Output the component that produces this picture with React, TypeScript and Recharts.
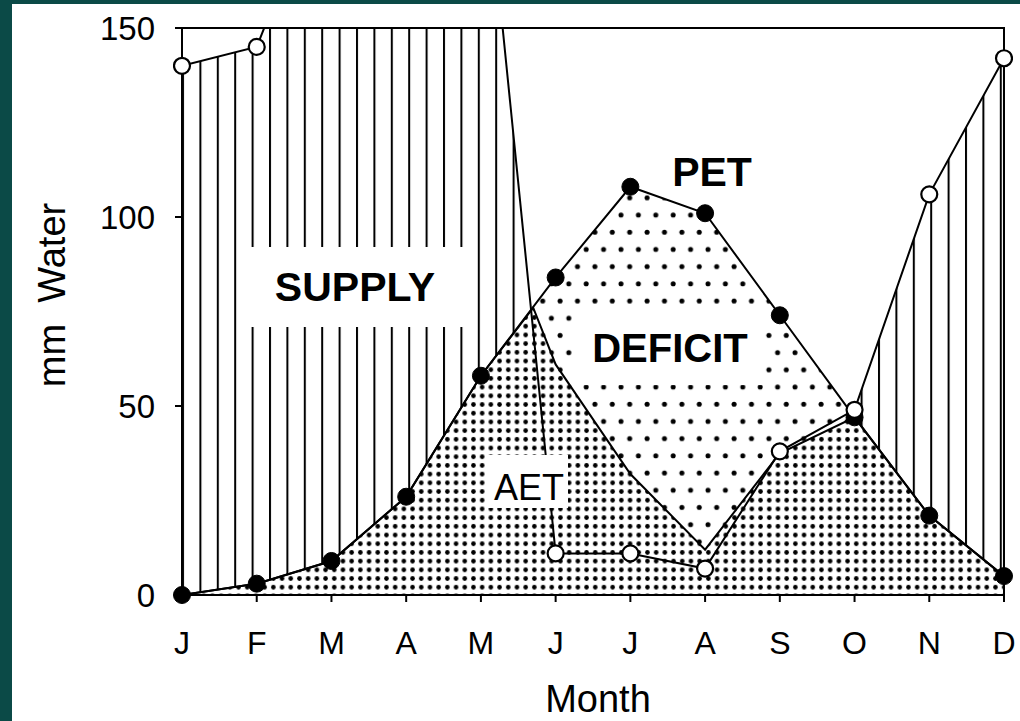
import React from "react";
import {
  ComposedChart,
  Area,
  Line,
  XAxis,
  YAxis,
  ReferenceArea,
} from "recharts";

const FONT = '"Liberation Sans", Arial, Helvetica, sans-serif';

// month letters along the bottom
const MONTHS = ["J", "F", "M", "A", "M", "J", "J", "A", "S", "O", "N", "D"];
const MONTH_TICKS = [0, 1, 2, 3, 4, 5, 6, 7, 8, 9, 10, 11];

// potential evapotranspiration (filled dots)
const PET = [0, 3, 9, 26, 58, 84, 108, 101, 74, 47, 21, 5];
// precipitation (open circles) - Mar..May run off the top of the chart
const PRECIP = [140, 145, 195, 200, 207, 11, 11, 7, 38, 49, 106, 142];
// actual evapotranspiration, breaks away from PET late in May
const AET_X = [0, 1, 2, 3, 4, 4.7, 5, 6, 7, 8, 9, 10, 11];
const AET_Y = [0, 3, 9, 26, 58, 76, 61, 32, 12, 37.5, 47, 21, 5];

const Y_TICKS = [0, 50, 100, 150];

const rows = (() => {
  const map = new Map<number, any>();
  MONTH_TICKS.forEach((m) => map.set(m, { m, pet: PET[m], precip: PRECIP[m] }));
  AET_X.forEach((m, i) => {
    const r = map.get(m) || { m };
    r.aet = AET_Y[i];
    map.set(m, r);
  });
  return Array.from(map.values()).sort((a, b) => a.m - b.m);
})();

function MonthLabel(props: any) {
  const vb = props.viewBox || { x: 0, y: 0, width: 0, height: 0 };
  return (
    <text
      x={vb.x + vb.width / 2 + 5}
      y={vb.y + vb.height - 9}
      textAnchor="middle"
      fontSize={38}
      fontFamily={FONT}
      fill="#000"
    >
      Month
    </text>
  );
}

function WaterLabel(props: any) {
  const vb = props.viewBox || { x: 0, y: 0, width: 0, height: 0 };
  const cx = vb.x + 52;
  const cy = 295;
  return (
    <text
      x={cx}
      y={cy}
      transform={`rotate(-90 ${cx} ${cy})`}
      textAnchor="middle"
      dominantBaseline="central"
      fontSize={38}
      fontFamily={FONT}
      fill="#000"
      style={{ whiteSpace: "pre" }}
    >
      {"mm  Water"}
    </text>
  );
}

function Box({ x, y, w, h }: { x: number; y: number; w: number; h: number }) {
  return (
    <div
      style={{ position: "absolute", left: x, top: y, width: w, height: h, background: "#fff" }}
    />
  );
}

function Txt({
  cx,
  base,
  size,
  bold,
  children,
}: {
  cx: number;
  base: number;
  size: number;
  bold?: boolean;
  children: React.ReactNode;
}) {
  return (
    <div
      style={{
        position: "absolute",
        left: cx - 200,
        width: 400,
        top: base - 0.8465 * size,
        lineHeight: `${size}px`,
        fontSize: size,
        fontWeight: bold ? 700 : 400,
        fontFamily: FONT,
        textAlign: "center",
        color: "#000",
        whiteSpace: "nowrap",
      }}
    >
      {children}
    </div>
  );
}

export default function App() {
  const axisStroke = { stroke: "#000", strokeWidth: 2 };
  return (
    <div
      style={{
        position: "fixed",
        left: 0,
        top: 0,
        width: 1020,
        height: 721,
        background: "#fff",
        overflow: "hidden",
      }}
    >
      <ComposedChart
        width={1020}
        height={721}
        data={rows}
        margin={{ top: 28, right: 16, bottom: 0, left: 0 }}
      >
        <defs>
          <pattern id="hatch" patternUnits="userSpaceOnUse" x={182} y={0} width={17.4} height={10}>
            <rect x={0} y={0} width={17.4} height={10} fill="#fff" />
            <rect x={0} y={0} width={2} height={10} fill="#000" />
          </pattern>
          <pattern id="sparse" patternUnits="userSpaceOnUse" x={182} y={0} width={17.4} height={34.4}>
            <rect x={0} y={0} width={17.4} height={34.4} fill="#fff" />
            <circle cx={4} cy={8.6} r={2.5} fill="#000" />
            <circle cx={12.7} cy={25.8} r={2.5} fill="#000" />
          </pattern>
          <pattern id="dense" patternUnits="userSpaceOnUse" x={182} y={0} width={8.7} height={8.7}>
            <rect x={0} y={0} width={8.7} height={8.7} fill="#fff" />
            <circle cx={4.35} cy={4.35} r={2.3} fill="#000" />
          </pattern>
        </defs>
        <XAxis
          type="number"
          dataKey="m"
          domain={[0, 11]}
          ticks={MONTH_TICKS}
          tickFormatter={(v: number) => MONTHS[v]}
          height={126}
          tickSize={7}
          tickMargin={29}
          axisLine={axisStroke}
          tickLine={axisStroke}
          tick={{ fill: "#000", fontSize: 32, fontFamily: FONT }}
          allowDataOverflow
          label={<MonthLabel />}
        />
        <YAxis
          type="number"
          domain={[0, 150]}
          ticks={Y_TICKS}
          allowDataOverflow
          width={182}
          tickSize={7}
          tickMargin={20}
          axisLine={axisStroke}
          tickLine={axisStroke}
          tick={{ fill: "#000", fontSize: 33, fontFamily: FONT }}
          label={<WaterLabel />}
        />
        <Area
          type="linear"
          dataKey="precip"
          stroke="none"
          fill="url(#hatch)"
          fillOpacity={1}
          connectNulls
          isAnimationActive={false}
          dot={false}
          activeDot={false}
        />
        <Area
          type="linear"
          dataKey="pet"
          stroke="none"
          fill="url(#sparse)"
          fillOpacity={1}
          connectNulls
          isAnimationActive={false}
          dot={false}
          activeDot={false}
        />
        <Area
          type="linear"
          dataKey="aet"
          stroke="none"
          fill="url(#dense)"
          fillOpacity={1}
          connectNulls
          isAnimationActive={false}
          dot={false}
          activeDot={false}
        />
        <ReferenceArea x1={0} x2={11} y1={0} y2={150} fill="none" stroke="#000" strokeWidth={2} />
        <Line
          type="linear"
          dataKey="aet"
          stroke="#000"
          strokeWidth={2}
          dot={false}
          activeDot={false}
          connectNulls
          isAnimationActive={false}
        />
        <Line
          type="linear"
          dataKey="pet"
          stroke="#000"
          strokeWidth={2}
          dot={{ r: 8.5, fill: "#000", stroke: "#000", strokeWidth: 1, clipDot: false }}
          activeDot={false}
          connectNulls
          isAnimationActive={false}
        />
        <Line
          type="linear"
          dataKey="precip"
          stroke="#000"
          strokeWidth={2}
          dot={{ r: 8, fill: "#fff", stroke: "#000", strokeWidth: 2.2, clipDot: false }}
          activeDot={false}
          connectNulls
          isAnimationActive={false}
        />
      </ComposedChart>

      <Box x={245} y={247} w={225} h={80} />
      <Box x={573} y={305} w={190} h={80} />
      <Box x={487} y={455} w={81} h={53} />
      <Txt cx={355} base={302} size={41} bold>
        SUPPLY
      </Txt>
      <Txt cx={670} base={362} size={40} bold>
        DEFICIT
      </Txt>
      <Txt cx={529} base={500} size={36}>
        AET
      </Txt>
      <Txt cx={712} base={187} size={41} bold>
        PET
      </Txt>

      <div style={{ position: "absolute", left: 0, top: 0, width: 12, height: 721, background: "#0b4a47" }} />
      <div style={{ position: "absolute", left: 0, top: 0, width: 1020, height: 4, background: "#0b4a47" }} />
    </div>
  );
}
